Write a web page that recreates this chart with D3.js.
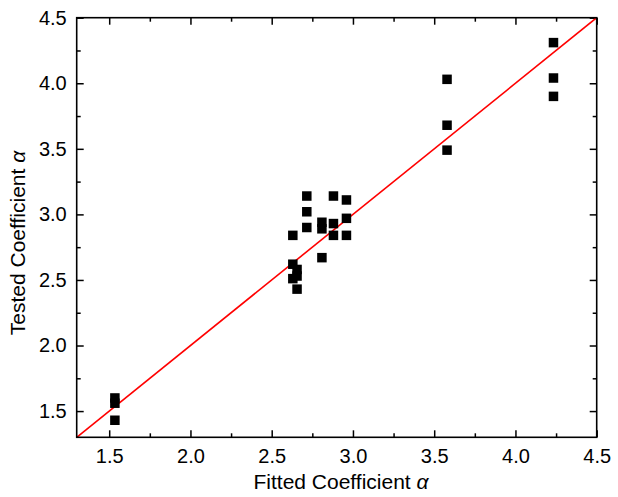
<!DOCTYPE html>
<html>
<head>
<meta charset="utf-8">
<script src="https://cdn.jsdelivr.net/npm/d3@7"></script>
<style>
  html, body { margin: 0; padding: 0; background: #fff; }
  svg { display: block; font-family: "Liberation Sans", Arial, sans-serif; }
  .tick text { font-size: 20px; fill: #000; }
  .axis-title { font-size: 21px; fill: #000; }
</style>
</head>
<body>
<svg id="chart" width="618" height="497"></svg>
<script>
/* Fitted vs tested coefficient alpha, with y = x reference line */

// groups of three tests per fitted value
const fitted = [1.535, 2.630, 2.656, 2.716, 2.809, 2.880, 2.960, 3.579, 4.234];
const tested = [
  [1.60, 1.56, 1.43],
  [2.84, 2.62, 2.51],
  [2.58, 2.53, 2.43],
  [3.14, 3.02, 2.90],
  [2.94, 2.89, 2.67],
  [3.14, 2.93, 2.84],
  [3.11, 2.97, 2.84],
  [4.03, 3.68, 3.49],
  [4.31, 4.04, 3.90],
];
const majorTicks = [1.5, 2.0, 2.5, 3.0, 3.5, 4.0, 4.5];
const minorTicks = [1.75, 2.25, 2.75, 3.25, 3.75, 4.25];
const yMajor = [1.5, 2.0, 2.5, 3.0, 3.5, 4.0, 4.5];
const yMinor = [1.75, 2.25, 2.75, 3.25, 3.75, 4.25];
const domain = [1.3, 4.5];

const points = fitted.flatMap((f, i) => tested[i].map(t => ({ x: f, y: t })));

const svg = d3.select("#chart");
const L = 76.7, R = 596.7, T = 17.7, B = 437.3;
const x = d3.scaleLinear().domain(domain).range([L, R]);
const y = d3.scaleLinear().domain(domain).range([B, T]);
const fmt = d3.format(".1f");

// ticks: all inward, labels on bottom/left only
function ticks(axisFn, pos, vals, size, labels, pad) {
  const a = axisFn(axisFn === d3.axisBottom || axisFn === d3.axisTop ? x : y)
    .tickValues(vals).tickSize(-size).tickSizeOuter(0).tickPadding(pad || 0)
    .tickFormat(labels ? fmt : () => "");
  const g = svg.append("g").attr("transform", pos).call(a);
  g.select(".domain").remove();
  g.selectAll(".tick line").attr("stroke", "#000").attr("stroke-width", 1.5);
  g.selectAll(".tick text").attr("font-size", null).attr("font-family", null);
  return g;
}
ticks(d3.axisBottom, `translate(0,${B})`, majorTicks, 7, true, 11.5);
ticks(d3.axisBottom, `translate(0,${B})`, minorTicks, 4, false);
ticks(d3.axisTop, `translate(0,${T})`, majorTicks, 7, false);
ticks(d3.axisTop, `translate(0,${T})`, minorTicks, 4, false);
ticks(d3.axisLeft, `translate(${L},0)`, yMajor, 7, true, 10);
ticks(d3.axisLeft, `translate(${L},0)`, yMinor, 4, false);
ticks(d3.axisRight, `translate(${R},0)`, yMajor, 7, false);
ticks(d3.axisRight, `translate(${R},0)`, yMinor, 4, false);

// clip for the y = x line
svg.append("clipPath").attr("id", "plot")
  .append("rect").attr("x", L).attr("y", T).attr("width", R - L).attr("height", B - T);

svg.append("line").attr("clip-path", "url(#plot)")
  .attr("x1", x(domain[0])).attr("y1", y(domain[0]))
  .attr("x2", x(domain[1])).attr("y2", y(domain[1]))
  .attr("stroke", "#ff0000").attr("stroke-width", 1.6);

const S = 9.5;
svg.append("g").selectAll("rect").data(points).join("rect")
  .attr("x", d => x(d.x) - S / 2).attr("y", d => y(d.y) - S / 2)
  .attr("width", S).attr("height", S).attr("fill", "#000");

// frame
svg.append("rect").attr("x", L).attr("y", T).attr("width", R - L).attr("height", B - T)
  .attr("fill", "none").attr("stroke", "#000").attr("stroke-width", 1.6);

const xt = svg.append("text").attr("class", "axis-title")
  .attr("x", 341).attr("y", 489).attr("text-anchor", "middle");
xt.append("tspan").text("Fitted Coefficient ");
xt.append("tspan").attr("font-style", "italic").text("α");

const yt = svg.append("text").attr("class", "axis-title")
  .attr("transform", `translate(25,243) rotate(-90)`).attr("text-anchor", "middle");
yt.append("tspan").text("Tested Coefficient ");
yt.append("tspan").attr("font-style", "italic").text("α");
</script>
</body>
</html>
